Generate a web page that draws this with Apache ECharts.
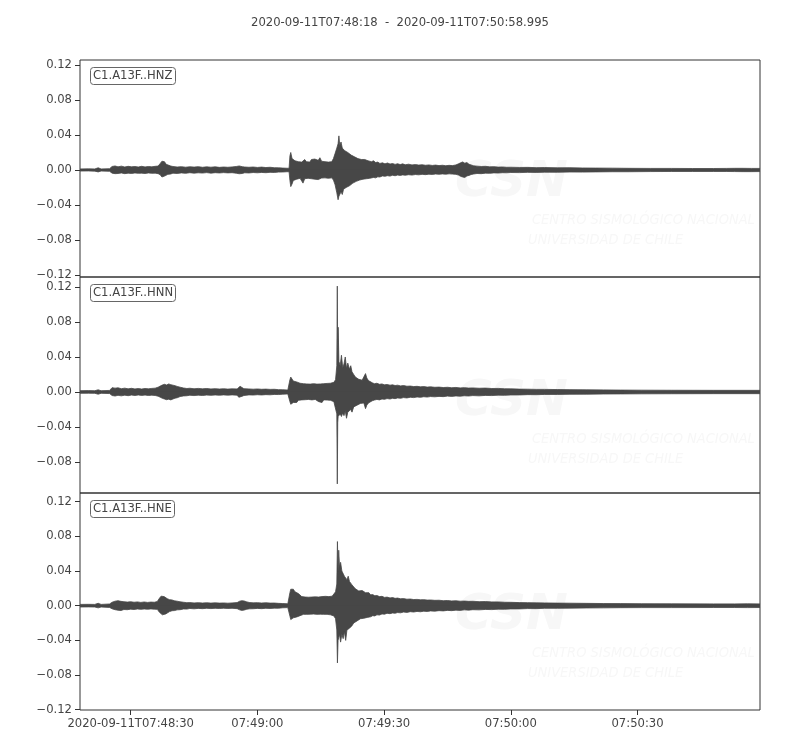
<!DOCTYPE html>
<html>
<head>
<meta charset="utf-8">
<script src="https://cdn.jsdelivr.net/npm/echarts@6/dist/echarts.min.js"></script>
<style>html,body{margin:0;padding:0;background:#fff}#c{width:800px;height:750px}</style>
</head>
<body>
<div id="c"></div>
<script>
// ---- Data: time in seconds since 2020-09-11T07:48:18; [time, upper envelope, lower envelope] ----
const titleText = '2020-09-11T07:48:18  -  2020-09-11T07:50:58.995';
const channelNames = ['C1.A13F..HNZ', 'C1.A13F..HNN', 'C1.A13F..HNE'];
const xTickValues = [12, 42, 72, 102, 132];
const xTickLabels = ['2020-09-11T07:48:30', '07:49:00', '07:49:30', '07:50:00', '07:50:30'];
const yTickValues = [-0.12, -0.08, -0.04, 0, 0.04, 0.08, 0.12];

const hnzEnvelope = [
[0,.0012,-.0012],[2,.0013,-.0011],[3.5,.0012,-.0013],[4.3,.0025,-.0022],[5,.0012,-.0012],[7,.0015,-.0015],
[7.6,.0040,-.0036],[8.3,.0046,-.0042],[9.0,.0036,-.0040],[9.8,.0044,-.0034],[10.6,.0034,-.0042],[11.4,.0042,-.0036],
[12.2,.0036,-.0040],[13.0,.0040,-.0034],[13.8,.0034,-.0038],[14.6,.0042,-.0036],[15.4,.0035,-.0040],[16.2,.0040,-.0034],
[17.0,.0036,-.0038],[17.8,.0042,-.0036],[18.5,.0045,-.0042],[19.0,.0075,-.0055],[19.4,.0100,-.0080],[19.7,.0085,-.0092],
[20.0,.0095,-.0070],[20.4,.0065,-.0075],[20.8,.0055,-.0050],[21.5,.0045,-.0046],[22,.0040,-.0036],[23,.0034,-.0040],
[24,.0038,-.0033],[25,.0032,-.0038],[26,.0037,-.0031],[27,.0033,-.0036],[28,.0038,-.0032],[29,.0031,-.0035],
[30,.0036,-.0030],[31,.0032,-.0036],[32,.0036,-.0031],[33,.0030,-.0034],[34,.0034,-.0030],[35,.0031,-.0033],
[36,.0035,-.0031],[37,.0040,-.0037],[37.7,.0046,-.0043],[38.4,.0038,-.0040],[39,.0034,-.0032],[40,.0031,-.0034],
[41,.0034,-.0029],[42,.0029,-.0032],[43,.0033,-.0028],[44,.0028,-.0031],[45,.0031,-.0027],[46,.0026,-.0028],
[47,.0025,-.0024],[48,.0022,-.0023],[49,.0020,-.0020],[49.5,.0020,-.0020],
[49.7,.0160,-.0120],[49.9,.0200,-.0190],[50.2,.0130,-.0160],[50.5,.0150,-.0120],[50.9,.0105,-.0130],[51.3,.0120,-.0105],
[51.7,.0095,-.0120],[52.1,.0110,-.0095],[52.5,.0090,-.0115],[52.8,.0105,-.0150],[53.2,.0120,-.0100],[53.6,.0095,-.0115],
[54.0,.0110,-.0095],[54.4,.0090,-.0110],[54.8,.0120,-.0100],[55.2,.0100,-.0090],[55.6,.0125,-.0105],[56.0,.0145,-.0095],
[56.4,.0110,-.0110],[56.8,.0140,-.0100],[57.2,.0100,-.0092],[57.6,.0115,-.0105],[58.0,.0095,-.0090],[58.4,.0110,-.0110],
[58.8,.0090,-.0095],[59.2,.0105,-.0100],[59.6,.0095,-.0090],[60.0,.0130,-.0115],[60.4,.0190,-.0170],[60.8,.0250,-.0260],
[61.1,.0300,-.0340],[61.3,.0390,-.0300],[61.5,.0280,-.0320],[61.8,.0320,-.0250],[62.1,.0250,-.0280],[62.4,.0270,-.0220],
[62.7,.0220,-.0240],[63.0,.0240,-.0200],[63.4,.0200,-.0210],[63.8,.0215,-.0180],[64.2,.0170,-.0190],[64.6,.0180,-.0150],
[65.0,.0150,-.0160],[65.4,.0160,-.0130],[65.8,.0130,-.0140],[66.2,.0145,-.0115],[66.6,.0120,-.0125],[67.0,.0135,-.0105],
[67.4,.0120,-.0115],[67.8,.0130,-.0100],[68.2,.0105,-.0110],[68.6,.0115,-.0095],[69.0,.0095,-.0100],[69.5,.0105,-.0085],
[70.0,.0085,-.0090],[70.5,.0090,-.0078],[71.0,.0075,-.0080],[71.6,.0082,-.0068],[72.2,.0070,-.0072],[72.8,.0080,-.0065],
[73.4,.0068,-.0070],[74.0,.0074,-.0060],[74.6,.0064,-.0066],[75.2,.0072,-.0058],[75.8,.0062,-.0062],[76.4,.0070,-.0056],
[77.0,.0060,-.0060],[77.8,.0066,-.0054],[78.6,.0058,-.0058],[79.4,.0062,-.0052],[80.2,.0056,-.0055],[81.0,.0060,-.0050],
[81.8,.0054,-.0053],[82.6,.0058,-.0048],[83.4,.0052,-.0051],[84.2,.0056,-.0046],[85.0,.0050,-.0049],[85.8,.0054,-.0045],
[86.6,.0049,-.0048],[87.4,.0053,-.0044],[88.2,.0050,-.0047],[89.0,.0058,-.0050],[89.6,.0070,-.0058],[90.1,.0082,-.0072],
[90.6,.0092,-.0080],[91.1,.0078,-.0085],[91.6,.0085,-.0068],[92.1,.0065,-.0062],[92.6,.0058,-.0052],[93.2,.0048,-.0046],
[94.0,.0044,-.0040],[95.0,.0040,-.0042],[96.0,.0042,-.0036],[97.0,.0036,-.0038],[98.0,.0038,-.0033],[99.0,.0033,-.0035],
[100,.0035,-.0031],[101,.0031,-.0032],[102,.0032,-.0029],[104,.0029,-.0030],[106,.0030,-.0027],[108,.0027,-.0028],
[110,.0028,-.0025],[113,.0025,-.0026],[116,.0026,-.0023],[119,.0023,-.0024],[122,.0022,-.0022],[126,.0021,-.0020],
[130,.0019,-.0020],[135,.0018,-.0018],[140,.0018,-.0017],[145,.0017,-.0017],[150,.0017,-.0017],[153,.0018,-.0017],
[155,.0019,-.0018],[157,.0019,-.0019],[159,.0018,-.0019],[161,.0018,-.0018]
];

const hnnEnvelope = [
[0,.0015,-.0015],[2,.0016,-.0014],[3.5,.0015,-.0015],[4.3,.0025,-.0025],[5,.0015,-.0015],[7,.0018,-.0018],
[7.6,.0050,-.0040],[8.3,.0044,-.0046],[9.0,.0048,-.0038],[9.8,.0038,-.0044],[10.6,.0044,-.0036],[11.4,.0036,-.0042],
[12.2,.0042,-.0035],[13.0,.0035,-.0040],[13.8,.0040,-.0034],[14.6,.0034,-.0039],[15.4,.0040,-.0035],[16.2,.0036,-.0040],
[17.0,.0041,-.0036],[17.8,.0044,-.0040],[18.5,.0055,-.0048],[19.0,.0068,-.0060],[19.5,.0080,-.0072],[20.0,.0088,-.0080],
[20.5,.0080,-.0088],[21.0,.0092,-.0082],[21.5,.0084,-.0090],[22.0,.0078,-.0080],[22.5,.0072,-.0070],[23.0,.0064,-.0066],
[23.7,.0055,-.0052],[24.5,.0046,-.0045],[25.3,.0040,-.0043],[26,.0043,-.0037],[27,.0037,-.0041],[28,.0041,-.0036],
[29,.0036,-.0040],[30,.0040,-.0035],[31,.0035,-.0038],[32,.0038,-.0034],[33,.0034,-.0037],[34,.0037,-.0033],
[35,.0033,-.0036],[36,.0036,-.0033],[37.2,.0035,-.0036],[37.6,.0055,-.0060],[37.9,.0065,-.0072],[38.3,.0048,-.0050],
[38.8,.0038,-.0040],[40,.0035,-.0033],[41,.0032,-.0035],[42,.0035,-.0031],[43,.0031,-.0034],[44,.0033,-.0030],
[45,.0030,-.0032],[46,.0031,-.0028],[47,.0027,-.0029],[48,.0026,-.0025],[49.2,.0022,-.0022],[49.5,.0022,-.0022],
[49.7,.0140,-.0110],[49.9,.0170,-.0140],[50.2,.0150,-.0145],[50.5,.0125,-.0120],[50.9,.0140,-.0105],[51.3,.0115,-.0120],
[51.7,.0120,-.0095],[52.1,.0100,-.0110],[52.5,.0115,-.0090],[52.9,.0095,-.0105],[53.3,.0110,-.0088],[53.7,.0092,-.0100],
[54.1,.0105,-.0085],[54.5,.0090,-.0098],[54.9,.0110,-.0090],[55.3,.0095,-.0105],[55.7,.0105,-.0085],[56.1,.0090,-.0095],
[56.5,.0102,-.0110],[56.9,.0092,-.0088],[57.3,.0108,-.0120],[57.7,.0095,-.0090],[58.1,.0112,-.0100],[58.5,.0098,-.0092],
[58.9,.0105,-.0105],[59.3,.0100,-.0095],[59.7,.0115,-.0100],[60.1,.0110,-.0110],[60.5,.0140,-.0125],[60.8,.0300,-.0250],
[60.92,.1210,-.1050],[61.02,.0300,-.0350],[61.12,.0740,-.0280],[61.3,.0350,-.0300],[61.6,.0300,-.0250],[61.9,.0420,-.0280],
[62.2,.0280,-.0240],[62.5,.0320,-.0270],[62.8,.0400,-.0220],[63.1,.0270,-.0300],[63.4,.0330,-.0230],[63.8,.0260,-.0250],
[64.1,.0300,-.0200],[64.4,.0230,-.0230],[64.8,.0200,-.0170],[65.2,.0170,-.0180],[65.6,.0160,-.0150],[66.0,.0145,-.0150],
[66.4,.0150,-.0130],[66.8,.0135,-.0140],[67.2,.0150,-.0125],[67.6,.0210,-.0190],[67.9,.0160,-.0150],[68.3,.0130,-.0125],
[68.7,.0115,-.0110],[69.2,.0105,-.0100],[69.7,.0095,-.0092],[70.3,.0100,-.0085],[70.9,.0088,-.0090],[71.5,.0092,-.0080],
[72.1,.0082,-.0084],[72.7,.0086,-.0075],[73.4,.0078,-.0080],[74.0,.0082,-.0072],[74.6,.0074,-.0076],[75.2,.0078,-.0068],
[75.9,.0070,-.0072],[76.6,.0074,-.0064],[77.4,.0066,-.0068],[78.2,.0068,-.0060],[79.0,.0062,-.0064],[79.8,.0065,-.0057],
[80.6,.0059,-.0061],[81.4,.0062,-.0054],[82.2,.0056,-.0058],[83.0,.0059,-.0052],[84.0,.0054,-.0055],[85.0,.0056,-.0050],
[86.0,.0051,-.0053],[87.0,.0054,-.0047],[88.0,.0049,-.0050],[89.0,.0052,-.0045],[90.0,.0047,-.0048],[91.0,.0050,-.0043],
[92.0,.0045,-.0046],[93.0,.0047,-.0041],[94.5,.0043,-.0044],[96,.0045,-.0039],[97.5,.0040,-.0041],[99,.0041,-.0036],
[100.5,.0037,-.0038],[102,.0036,-.0034],[104,.0033,-.0034],[106,.0032,-.0030],[108,.0030,-.0031],[110,.0030,-.0028],
[113,.0028,-.0028],[116,.0027,-.0026],[120,.0025,-.0025],[124,.0024,-.0023],[128,.0022,-.0022],[133,.0021,-.0021],
[140,.0020,-.0020],[150,.0019,-.0019],[161,.0019,-.0019]
];

const hneEnvelope = [
[0,.0015,-.0015],[2,.0016,-.0014],[3.5,.0015,-.0015],[4.3,.0028,-.0025],[5,.0015,-.0015],[7,.0020,-.0020],
[7.6,.0040,-.0036],[8.3,.0052,-.0046],[9.0,.0058,-.0052],[9.7,.0050,-.0056],[10.4,.0046,-.0044],[11.2,.0042,-.0046],
[12.0,.0046,-.0040],[12.8,.0040,-.0044],[13.6,.0044,-.0038],[14.4,.0038,-.0042],[15.2,.0043,-.0038],[16.0,.0038,-.0041],
[16.8,.0042,-.0037],[17.6,.0040,-.0040],[18.3,.0048,-.0042],[18.8,.0085,-.0075],[19.2,.0110,-.0095],[19.5,.0095,-.0105],
[19.9,.0105,-.0090],[20.3,.0085,-.0095],[20.7,.0080,-.0072],[21.2,.0070,-.0068],[21.8,.0066,-.0058],[22.4,.0056,-.0056],
[23.0,.0052,-.0048],[23.7,.0045,-.0046],[24.5,.0040,-.0038],[25.3,.0035,-.0039],[26,.0036,-.0032],[27,.0032,-.0036],
[28,.0035,-.0031],[29,.0031,-.0034],[30,.0034,-.0030],[31,.0030,-.0033],[32,.0033,-.0030],[33,.0030,-.0032],
[34,.0032,-.0029],[35,.0029,-.0032],[36,.0032,-.0030],[37.2,.0036,-.0034],[37.8,.0052,-.0048],[38.3,.0058,-.0054],
[38.9,.0054,-.0050],[39.5,.0044,-.0040],[40.2,.0036,-.0036],[41,.0033,-.0035],[42,.0035,-.0031],[43,.0031,-.0034],
[44,.0034,-.0030],[45,.0030,-.0032],[46,.0031,-.0028],[47,.0027,-.0029],[48,.0025,-.0024],[49.2,.0022,-.0022],
[49.5,.0025,-.0025],[49.7,.0150,-.0120],[49.9,.0190,-.0160],[50.2,.0175,-.0170],[50.5,.0190,-.0140],[50.9,.0160,-.0155],
[51.3,.0175,-.0130],[51.7,.0140,-.0135],[52.1,.0120,-.0115],[52.5,.0105,-.0125],[52.9,.0118,-.0100],[53.3,.0100,-.0115],
[53.7,.0122,-.0100],[54.1,.0098,-.0110],[54.5,.0112,-.0098],[54.9,.0100,-.0108],[55.3,.0118,-.0096],[55.7,.0102,-.0112],
[56.1,.0112,-.0100],[56.5,.0100,-.0115],[56.9,.0120,-.0098],[57.3,.0105,-.0108],[57.7,.0122,-.0100],[58.1,.0108,-.0112],
[58.5,.0115,-.0100],[58.9,.0105,-.0115],[59.3,.0118,-.0105],[59.7,.0110,-.0112],[60.1,.0128,-.0118],[60.5,.0160,-.0150],
[60.8,.0250,-.0280],[60.95,.0740,-.0660],[61.1,.0400,-.0400],[61.25,.0640,-.0380],[61.45,.0450,-.0330],[61.7,.0500,-.0420],
[62.0,.0400,-.0330],[62.3,.0420,-.0380],[62.6,.0340,-.0300],[62.9,.0360,-.0400],[63.2,.0300,-.0280],[63.5,.0340,-.0300],
[63.8,.0280,-.0260],[64.1,.0300,-.0280],[64.4,.0240,-.0230],[64.8,.0220,-.0200],[65.2,.0195,-.0210],[65.6,.0180,-.0175],
[66.0,.0170,-.0185],[66.4,.0160,-.0150],[66.8,.0175,-.0160],[67.2,.0185,-.0145],[67.6,.0150,-.0150],[68.0,.0140,-.0135],
[68.4,.0150,-.0125],[68.8,.0125,-.0128],[69.3,.0128,-.0115],[69.8,.0115,-.0118],[70.3,.0118,-.0105],[70.9,.0105,-.0108],
[71.5,.0108,-.0095],[72.1,.0096,-.0098],[72.7,.0099,-.0088],[73.4,.0090,-.0092],[74.0,.0094,-.0084],[74.6,.0085,-.0087],
[75.2,.0088,-.0079],[75.9,.0080,-.0082],[76.6,.0082,-.0073],[77.4,.0075,-.0077],[78.2,.0077,-.0069],[79.0,.0071,-.0073],
[79.8,.0073,-.0066],[80.6,.0068,-.0070],[81.4,.0070,-.0063],[82.2,.0065,-.0067],[83.0,.0066,-.0060],[84.0,.0062,-.0063],
[85.0,.0063,-.0057],[86.0,.0058,-.0060],[87.0,.0060,-.0054],[88.0,.0055,-.0057],[89.0,.0057,-.0051],[90.0,.0052,-.0054],
[91.0,.0054,-.0048],[92.0,.0050,-.0051],[93.0,.0051,-.0046],[94.5,.0047,-.0048],[96,.0048,-.0043],[97.5,.0044,-.0045],
[99,.0044,-.0040],[100.5,.0040,-.0041],[102,.0039,-.0037],[104,.0036,-.0037],[106,.0035,-.0033],[108,.0033,-.0034],
[110,.0032,-.0030],[113,.0030,-.0030],[116,.0029,-.0028],[120,.0027,-.0026],[124,.0025,-.0025],[128,.0024,-.0023],
[133,.0023,-.0022],[140,.0022,-.0022],[150,.0021,-.0021],[155,.0021,-.0021],[158,.0022,-.0022],[161,.0021,-.0021]
];

// ---- Layout / styling ----
const panels = [
  {env: hnzEnvelope, top: 60, height: 217, min: -0.1223, max: 0.1257},
  {env: hnnEnvelope, top: 277, height: 216, min: -0.1154, max: 0.1314},
  {env: hneEnvelope, top: 493, height: 217, min: -0.1203, max: 0.1300}
];
const FONT = 'DejaVu Sans';
const FS = 11.6;
const TXT = '#444';
const TRACE = '#474747';
const X_MAX = 160.995;

function fmtY(v) {
  const s = Math.abs(v).toFixed(2);
  return (v < -1e-9 ? '\u2212' : '') + s;
}

const grids = [], xAxes = [], yAxes = [], series = [], titles = [];
titles.push({text: titleText, left: 'center', top: 12,
  textStyle: {fontFamily: FONT, fontSize: FS, fontWeight: 'normal', color: TXT}});

panels.forEach((p, i) => {
  grids.push({left: 80, top: p.top, width: 680, height: p.height, show: true,
    borderColor: '#333', borderWidth: 1, backgroundColor: 'transparent', z: 1});
  const last = i === panels.length - 1;
  xAxes.push({type: 'value', gridIndex: i, min: 0, max: X_MAX, position: 'bottom',
    axisLine: {show: false, onZero: false}, splitLine: {show: false},
    axisTick: {show: last, length: 5, customValues: xTickValues, lineStyle: {color: '#333'}},
    axisLabel: {show: last, customValues: xTickValues, margin: 8,
      fontFamily: FONT, fontSize: FS, color: TXT,
      formatter: v => { const k = xTickValues.indexOf(Math.round(v)); return k >= 0 ? xTickLabels[k] : ''; }}
  });
  const yt = yTickValues.filter(v => v >= p.min - 1e-9 && v <= p.max + 1e-9);
  yAxes.push({type: 'value', gridIndex: i, min: p.min, max: p.max,
    axisLine: {show: false, onZero: false}, splitLine: {show: false},
    axisTick: {show: true, length: 5, customValues: yt, lineStyle: {color: '#333'}},
    axisLabel: {customValues: yt, margin: 8, fontFamily: FONT, fontSize: FS, color: TXT, formatter: fmtY}
  });
  // upper and lower envelopes each filled toward the zero line (slightly overlapping to avoid a seam)
  const upData = p.env.map(e => [e[0], e[1]]);
  const loData = p.env.map(e => [e[0], e[2]]);
  [[upData, -0.0006], [loData, 0.0006]].forEach(([d, org]) => {
    series.push({type: 'line', xAxisIndex: i, yAxisIndex: i, data: d,
      showSymbol: false, symbol: 'none', silent: true, animation: false, z: 3,
      lineStyle: {color: TRACE, width: 0.8},
      areaStyle: {color: TRACE, opacity: 1, origin: org}});
  });
  titles.push({text: channelNames[i], left: 90, top: p.top + 7,
    padding: [3, 3, 3, 3], borderColor: '#666', borderWidth: 1, borderRadius: 3, backgroundColor: '#fff',
    textStyle: {fontFamily: FONT, fontSize: FS, fontWeight: 'normal', color: TXT}});
});

// faint CSN watermark in each panel
const wm = [];
panels.forEach((p, i) => {
  const oy = p.top - 60 + (i === 1 ? 2 : 0);
  wm.push({type: 'text', z: 0, left: 455, top: 158 + oy,
    style: {text: 'CSN', font: 'italic bold 50px "DejaVu Sans"', fill: '#f7f7f7'}});
  wm.push({type: 'text', z: 0, left: 532, top: 213 + oy,
    style: {text: 'CENTRO SISMOLÓGICO NACIONAL', font: 'italic 14.5px "DejaVu Sans Condensed"', fill: '#f7f7f7'}});
  wm.push({type: 'text', z: 0, left: 528, top: 233 + oy,
    style: {text: 'UNIVERSIDAD DE CHILE', font: 'italic 14.5px "DejaVu Sans Condensed"', fill: '#f7f7f7'}});
});

const chart = echarts.init(document.getElementById('c'), null, {renderer: 'canvas'});
chart.setOption({
  animation: false,
  backgroundColor: '#fff',
  title: titles,
  grid: grids,
  xAxis: xAxes,
  yAxis: yAxes,
  series: series,
  graphic: wm
});
</script>
</body>
</html>
